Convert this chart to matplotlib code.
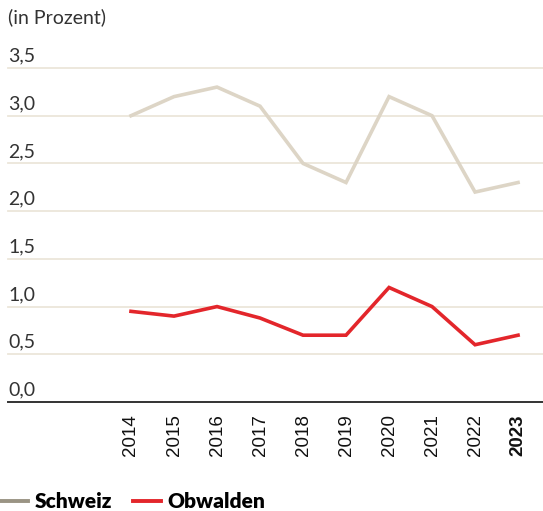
import matplotlib
matplotlib.use("Agg")
import matplotlib.pyplot as plt
from matplotlib.lines import Line2D

years = ["2014", "2015", "2016", "2017", "2018", "2019", "2020", "2021", "2022", "2023"]
schweiz = [3.0, 3.2, 3.3, 3.1, 2.5, 2.3, 3.2, 3.0, 2.2, 2.3]
obwalden = [0.95, 0.9, 1.0, 0.88, 0.7, 0.7, 1.2, 1.0, 0.6, 0.7]
yticks = [0.0, 0.5, 1.0, 1.5, 2.0, 2.5, 3.0, 3.5]
ytick_labels = ["0,0", "0,5", "1,0", "1,5", "2,0", "2,5", "3,0", "3,5"]

W, H = 543, 511
fig = plt.figure(figsize=(W / 100, H / 100), dpi=100)
left = 8 / W
bottom = 1 - 402 / H
top = 1 - 68 / H
ax = fig.add_axes([left, bottom, 1 - left, top - bottom])

c_ch = "#ddd5c6"
c_ow = "#e3262b"
grid_c = "#ece6da"

x = list(range(len(years)))
ax.set_xlim(-2.86, len(years) - 1 + 0.58)
ax.set_ylim(0, 3.5)

for v in yticks[1:]:
    ax.axhline(v, color=grid_c, lw=1.3, zorder=1, clip_on=False)
ax.axhline(0, color="#333333", lw=1.4, zorder=3, clip_on=False)

ax.plot(x, schweiz, color=c_ch, lw=2.6, zorder=2, solid_joinstyle="miter")
ax.plot(x, obwalden, color=c_ow, lw=2.6, zorder=2, solid_joinstyle="miter")

for spine in ax.spines.values():
    spine.set_visible(False)
ax.set_xticks([])
ax.set_yticks([])

for v, lab in zip(yticks, ytick_labels):
    ax.annotate(lab, xy=(0, v), xycoords=("axes fraction", "data"),
                xytext=(0, 2.5), textcoords="offset points",
                ha="left", va="bottom", fontsize=14, color="#333333",
                family="Lato")

for xi, yr in zip(x, years):
    bold = yr == "2023"
    ax.annotate(yr, xy=(xi, 0), xycoords="data",
                xytext=(0, -9), textcoords="offset points",
                ha="center", va="top", rotation=90, fontsize=13.5,
                color="#111111", family="Liberation Sans",
                fontweight="bold" if bold else "normal")

fig.text(8 / W, 1 - 17 / H, "(in Prozent)", ha="left", va="center",
         fontsize=14, color="#333333", family="Lato")

handles = [Line2D([], [], color="#9a9484", lw=2.8),
           Line2D([], [], color=c_ow, lw=2.8)]
leg = fig.legend(handles, ["Schweiz", "Obwalden"], loc="center left",
                 bbox_to_anchor=(0, 1 - 502 / H), ncol=2, frameon=False,
                 handlelength=1.35, handletextpad=0.3, columnspacing=1.0,
                 borderaxespad=0, borderpad=0,
                 prop={"family": "Lato", "weight": "heavy", "size": 15})

fig.savefig("out.png", dpi=100)
